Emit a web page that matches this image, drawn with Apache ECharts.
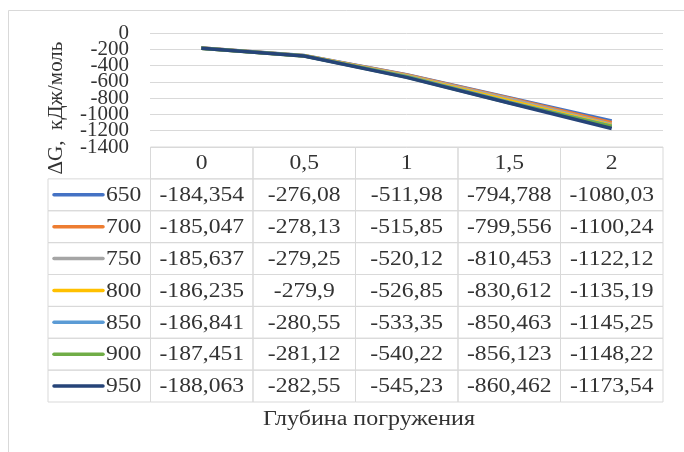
<!DOCTYPE html>
<html>
<head>
<meta charset="utf-8">
<script src="https://cdn.jsdelivr.net/npm/echarts@6/dist/echarts.min.js"></script>
<style>
  html, body { margin: 0; padding: 0; background: #fff; }
  #chart { width: 684px; height: 452px; }
</style>
</head>
<body>
<div id="chart"></div>
<script>
// Immersion depth (x categories) and temperatures (one series each)
const depths = ['0', '0,5', '1', '1,5', '2'];
const temps = ['650', '700', '750', '800', '850', '900', '950'];

// ΔG, kJ/mol at each depth
const g650 = [-184.354, -276.08, -511.98, -794.788, -1080.03];
const g700 = [-185.047, -278.13, -515.85, -799.556, -1100.24];
const g750 = [-185.637, -279.25, -520.12, -810.453, -1122.12];
const g800 = [-186.235, -279.9, -526.85, -830.612, -1135.19];
const g850 = [-186.841, -280.55, -533.35, -850.463, -1145.25];
const g900 = [-187.451, -281.12, -540.22, -856.123, -1148.22];
const g950 = [-188.063, -282.55, -545.23, -860.462, -1173.54];

const seriesValues = [g650, g700, g750, g800, g850, g900, g950];
const yTicks = { min: -1400, max: 0, interval: 200 };

const colors = ['#4472C4', '#ED7D31', '#A5A5A5', '#FFC000', '#5B9BD5', '#70AD47', '#264478'];
const FONT = '"Liberation Serif", "Times New Roman", serif';
const TEXT = '#333333';
const RULE = '#d9d9d9';
const STRETCH = 1.18;

function fmt(v) { return String(v).replace('.', ','); }

// Table cells: [column, row] in the table grid, column 0 = legend keys, row 0 = header
const tableCells = [];
depths.forEach((d, c) => tableCells.push({ value: [c + 1, 0], kind: 'head', text: d }));
temps.forEach((t, r) => {
  tableCells.push({ value: [0, r + 1], kind: 'key', text: t, color: colors[r] });
  seriesValues[r].forEach((v, c) => tableCells.push({ value: [c + 1, r + 1], kind: 'cell', text: fmt(v) }));
});

function renderCell(params, api) {
  const cell = tableCells[params.dataIndex];
  const center = api.coord([api.value(0), api.value(1)]);
  const w = api.size([1, 0])[0];
  const h = api.size([0, 1])[1];
  const x0 = center[0] - w / 2, y0 = center[1] - h / 2;
  const children = [{
    type: 'rect',
    shape: { x: x0, y: y0, width: w, height: h },
    style: { fill: null, stroke: RULE, lineWidth: 1 }
  }];
  if (cell.kind === 'key') {
    children.push({
      type: 'line',
      shape: { x1: x0 + 6, y1: center[1], x2: x0 + 55, y2: center[1] },
      style: { stroke: cell.color, lineWidth: 3.5, lineCap: 'round' }
    });
    children.push({
      type: 'text', x: x0 + 58, y: center[1] + 1, scaleX: STRETCH,
      style: { text: cell.text, font: '20px ' + FONT, fill: TEXT, align: 'left', verticalAlign: 'middle' }
    });
  } else {
    children.push({
      type: 'text', x: center[0], y: center[1] + 1, scaleX: STRETCH,
      style: { text: cell.text, font: '20px ' + FONT, fill: TEXT, align: 'center', verticalAlign: 'middle' }
    });
  }
  return { type: 'group', children };
}

// The tick labels are taller than the tick spacing, so alternate ticks are
// labelled by two overlaid value axes sharing the same scale.
function tickLabels(parity) {
  return {
    margin: 21, color: TEXT, fontFamily: FONT, fontSize: 21,
    showMinLabel: true, showMaxLabel: true, hideOverlap: false,
    formatter: v => (Math.round((v - yTicks.min) / yTicks.interval) % 2 === parity ? String(v) : '')
  };
}

const chart = echarts.init(document.getElementById('chart'), null, { renderer: 'canvas' });

chart.setOption({
  animation: false,
  backgroundColor: '#fff',
  color: colors,
  grid: [
    { left: 150, right: 21, top: 33, bottom: 305 },
    { left: 48, right: 21, top: 147, bottom: 50 }
  ],
  xAxis: [
    {
      type: 'category', gridIndex: 0, data: depths, boundaryGap: true,
      axisLine: { show: false }, axisTick: { show: false }, axisLabel: { show: false }
    },
    {
      type: 'category', gridIndex: 1, data: [''].concat(depths), boundaryGap: true,
      axisLine: { show: false }, axisTick: { show: false }, axisLabel: { show: false }
    }
  ],
  yAxis: [
    {
      type: 'value', gridIndex: 0, position: 'left',
      min: yTicks.min, max: yTicks.max, interval: yTicks.interval,
      axisLine: { show: false }, axisTick: { show: false },
      axisLabel: tickLabels(0),
      splitLine: { lineStyle: { color: RULE, width: 1 } }
    },
    {
      type: 'category', gridIndex: 1, data: [''].concat(temps), inverse: true,
      axisLine: { show: false }, axisTick: { show: false }, axisLabel: { show: false },
      splitLine: { show: false }
    },
    {
      type: 'value', gridIndex: 0, position: 'left', offset: 0,
      min: yTicks.min, max: yTicks.max, interval: yTicks.interval,
      axisLine: { show: false }, axisTick: { show: false },
      axisLabel: tickLabels(1),
      splitLine: { show: false }
    }
  ],
  series: temps.map((t, i) => ({
    name: t, type: 'line', xAxisIndex: 0, yAxisIndex: 0,
    data: seriesValues[i], symbol: 'none',
    lineStyle: { width: 3.5, color: colors[i] }
  })).concat([{
    type: 'custom', xAxisIndex: 1, yAxisIndex: 1,
    data: tableCells.map(c => c.value),
    renderItem: renderCell, clip: false, silent: true
  }]),
  graphic: [
    {
      type: 'rect', silent: true,
      shape: { x: 8.5, y: 10.5, width: 800, height: 800 },
      style: { fill: null, stroke: RULE, lineWidth: 1 }
    },
    {
      type: 'text', x: 56, y: 108, rotation: Math.PI / 2, silent: true,
      style: { text: 'ΔG,  кДж/моль', font: '21px ' + FONT, fill: TEXT, align: 'center', verticalAlign: 'middle' }
    },
    {
      type: 'text', x: 369, y: 420, scaleX: 1.2, silent: true,
      style: { text: 'Глубина погружения', font: '20px ' + FONT, fill: TEXT, align: 'center', verticalAlign: 'middle' }
    }
  ]
});
</script>
</body>
</html>
